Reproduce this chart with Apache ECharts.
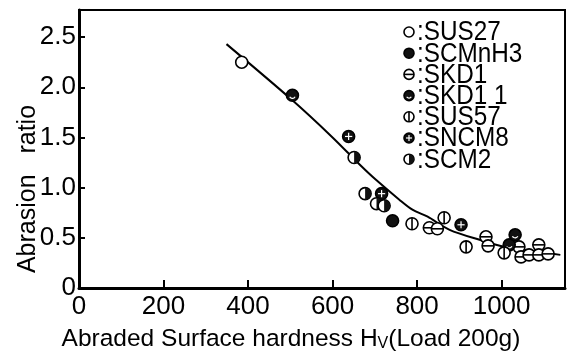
<!DOCTYPE html>
<html>
<head>
<meta charset="utf-8">
<script src="https://cdn.jsdelivr.net/npm/echarts@6/dist/echarts.min.js"></script>
<style>
  html, body { margin: 0; padding: 0; background: #fff; }
  #chart_1 { width: 568px; height: 354px; }
</style>
</head>
<body>
<div id="chart_1"></div>
<script>
// hardness Hv, abrasion ratio
const materials = ['SUS27', 'SCMnH3', 'SKD1', 'SKD11', 'SUS57', 'SNCM8', 'SCM2'];
const legendNames = ['SUS27', 'SCMnH3', 'SKD1', 'SKD1 1', 'SUS57', 'SNCM8', 'SCM2'];
const sus27 = [[385, 2.25]];
const scmnh3 = [[742, 0.67]];
const skd1 = [[829, 0.60], [848, 0.59], [963, 0.51], [968, 0.42], [1041, 0.41], [1046, 0.31], [1065, 0.33], [1088, 0.43], [1088, 0.33], [1110, 0.34]];
const skd11 = [[505, 1.92], [1018, 0.43], [1032, 0.53]];
const sus57 = [[788, 0.64], [864, 0.70], [916, 0.41], [1006, 0.35]];
const sncm8 = [[638, 1.51], [716, 0.94], [904, 0.63]];
const scm2 = [[651, 1.30], [677, 0.94], [704, 0.84], [722, 0.82]];
const seriesData = [sus27, scmnh3, skd1, skd11, sus57, sncm8, scm2];

// fitted curve
const curveX = [349, 505, 600, 664, 702, 758, 789, 825, 877, 948, 1007, 1139];
const curveY = [2.43, 1.87, 1.50, 1.23, 1.08, 0.88, 0.78, 0.71, 0.58, 0.48, 0.41, 0.33];

const yTicks = [0, 0.5, 1.0, 1.5, 2.0, 2.5];
const xTicks = [0, 200, 400, 600, 800, 1000];

const FONT = 'Liberation Sans';

// marker drawing, shared by the plot and the legend
function markShapes(type, cx, cy, r) {
  const lw = 1.6;
  const dark = (type === 'SCMnH3' || type === 'SKD11' || type === 'SNCM8');
  const els = [{
    type: 'circle',
    shape: { cx: cx, cy: cy, r: r },
    style: { fill: dark ? '#111' : '#fff', stroke: '#000', lineWidth: lw }
  }];
  if (type === 'SKD1') {
    els.push({ type: 'line', shape: { x1: cx - r, y1: cy, x2: cx + r, y2: cy }, style: { stroke: '#000', lineWidth: lw } });
  } else if (type === 'SUS57') {
    els.push({ type: 'line', shape: { x1: cx, y1: cy - r, x2: cx, y2: cy + r }, style: { stroke: '#000', lineWidth: lw } });
  } else if (type === 'SNCM8') {
    els.push({ type: 'line', shape: { x1: cx - r * 0.6, y1: cy, x2: cx + r * 0.6, y2: cy }, style: { stroke: '#fff', lineWidth: 1.2 } });
    els.push({ type: 'line', shape: { x1: cx, y1: cy - r * 0.6, x2: cx, y2: cy + r * 0.6 }, style: { stroke: '#fff', lineWidth: 1.2 } });
  } else if (type === 'SKD11') {
    els.push({ type: 'arc', shape: { cx: cx, cy: cy, r: r * 0.5, startAngle: 0.15 * Math.PI, endAngle: 0.85 * Math.PI }, style: { stroke: '#fff', fill: null, lineWidth: 1.2 } });
  } else if (type === 'SCM2') {
    els.push({ type: 'sector', shape: { cx: cx, cy: cy, r: r, r0: 0, startAngle: -Math.PI / 2, endAngle: Math.PI / 2 }, style: { fill: '#111' } });
  }
  return els;
}

const ViewChart = function () {
  this.myChart_1 = echarts.init(document.getElementById('chart_1'));
};

ViewChart.prototype.renderChart = function () {
  const series = [{
    type: 'line',
    data: curveX.map((x, i) => [x, curveY[i]]),
    smooth: 0.3,
    showSymbol: false,
    lineStyle: { color: '#000', width: 2 },
    z: 2,
    silent: true
  }];
  materials.forEach((m, k) => {
    series.push({
      type: 'custom',
      name: m,
      data: seriesData[k],
      z: 5,
      renderItem: function (params, api) {
        const p = api.coord([api.value(0), api.value(1)]);
        return { type: 'group', children: markShapes(m, p[0], p[1], 6) };
      }
    });
  });

  // hand-drawn legend in the upper right, narrow lettering
  const graphics = [];
  materials.forEach((m, k) => {
    const cy = 32 + k * 21.2;
    markShapes(m, 409, cy, 5).forEach(e => graphics.push(e));
    graphics.push({
      type: 'text',
      x: 417,
      y: cy + 1,
      scaleX: 0.9,
      style: { text: ':' + legendNames[k], fill: '#000', font: '27px "' + FONT + '"', verticalAlign: 'middle', align: 'left' }
    });
  });
  // y axis title sits low beside the axis, so place it by hand
  graphics.push({
    type: 'text',
    x: 28,
    y: 189,
    rotation: Math.PI / 2,
    style: { text: 'Abrasion   ratio', fill: '#000', font: '25px "' + FONT + '"', align: 'center', verticalAlign: 'middle' }
  });

  this.myChart_1.setOption({
    animation: false,
    grid: { left: 79, right: 3, top: 10, bottom: 66, outerBoundsMode: 'none', containLabel: false, show: true, borderColor: '#000', borderWidth: 2 },
    xAxis: {
      type: 'value',
      min: xTicks[0],
      max: 1150,
      interval: 200,
      name: 'Abraded Surface hardness H{sub|V}(Load 200g)',
      nameLocation: 'middle',
      nameGap: 38,
      nameTextStyle: {
        color: '#000', fontFamily: FONT, fontSize: 24.5, padding: [0, 62, 0, 0],
        rich: { sub: { fontSize: 16, verticalAlign: 'bottom', padding: [10, 0, 0, 0], fontFamily: FONT, color: '#000' } }
      },
      axisLine: { lineStyle: { color: '#000', width: 3 } },
      axisTick: { inside: true, length: 8, lineStyle: { color: '#000', width: 2 } },
      axisLabel: { color: '#000', fontFamily: FONT, fontSize: 26, margin: 6, showMaxLabel: false, formatter: v => String(v) },
      splitLine: { show: false }
    },
    yAxis: {
      type: 'value',
      min: yTicks[0],
      max: 2.77,
      interval: 0.5,
      axisLine: { lineStyle: { color: '#000', width: 3 } },
      axisTick: { inside: true, length: 6, lineStyle: { color: '#000', width: 2 } },
      axisLabel: {
        color: '#000', fontFamily: FONT, fontSize: 26, margin: 3, showMaxLabel: false,
        formatter: v => (v === 0 ? '0' : v.toFixed(1))
      },
      splitLine: { show: false }
    },
    graphic: graphics,
    series: series
  });
};

const view = new ViewChart();
view.renderChart();
</script>
</body>
</html>
